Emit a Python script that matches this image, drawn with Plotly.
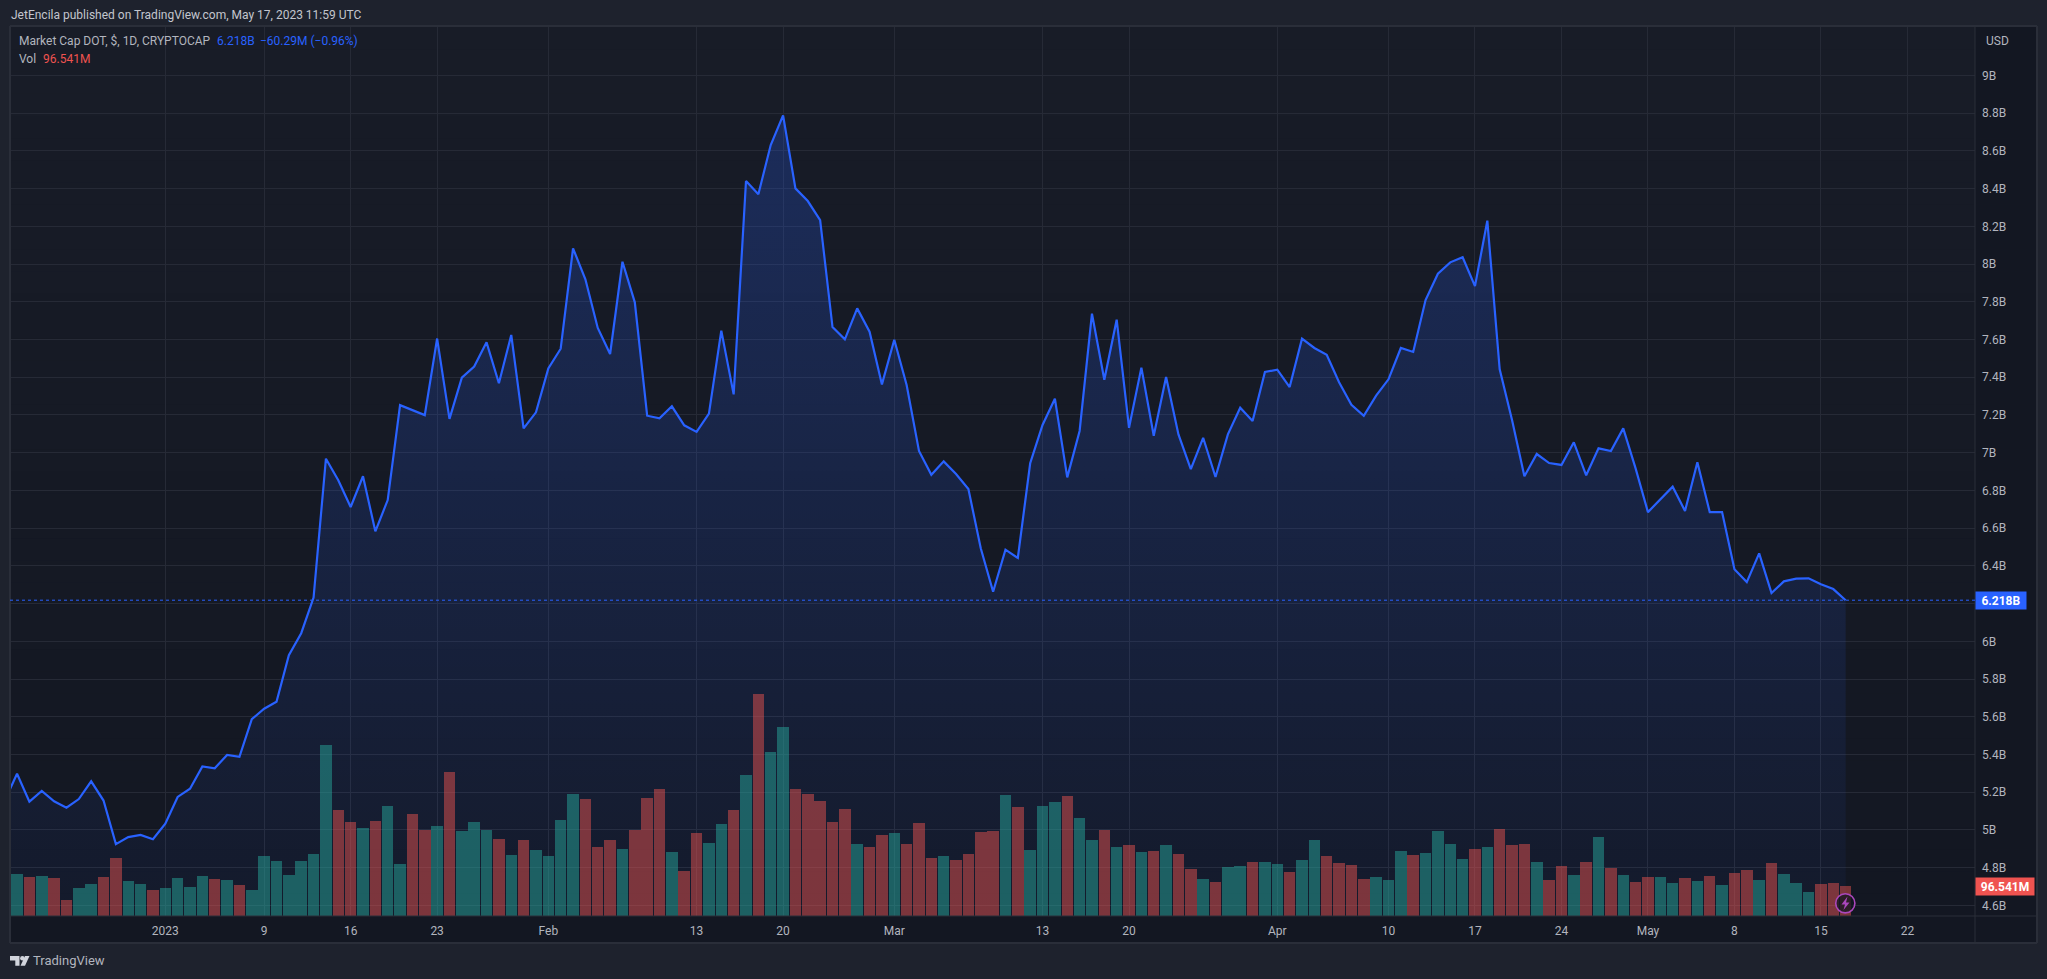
import pandas as pd
import plotly.graph_objects as go

# ---- data ----
start_date = "2022-12-19"
market_cap_b = [
 5.156,5.298,5.150,5.207,5.152,5.118,5.164,5.258,5.156,4.925,4.962,4.974,4.951,
 5.033,5.175,5.219,5.337,5.327,5.398,5.388,5.587,5.643,5.680,5.927,6.043,6.232,6.968,6.854,6.712,6.875,6.583,6.749,7.252,7.226,7.199,7.605,7.179,7.398,7.457,7.585,7.368,7.624,7.129,7.214,
 7.447,7.551,8.083,7.919,7.661,7.523,8.012,7.797,7.196,7.182,7.246,7.145,7.110,7.207,7.647,7.309,8.440,8.370,8.631,8.788,8.401,8.334,8.233,7.666,7.601,7.765,7.641,7.362,
 7.599,7.359,7.009,6.883,6.954,6.887,6.807,6.493,6.263,6.486,6.442,6.944,7.147,7.286,6.869,7.115,7.737,7.387,7.705,7.132,7.451,7.090,7.401,7.097,6.913,7.079,6.871,7.097,7.238,7.168,7.428,
 7.440,7.348,7.604,7.555,7.519,7.373,7.254,7.196,7.302,7.389,7.555,7.534,7.809,7.949,8.009,8.036,7.883,8.230,7.442,7.173,6.875,6.993,6.945,6.935,7.055,6.880,7.023,7.009,7.129,6.917,
 6.685,6.751,6.820,6.691,6.949,6.685,6.685,6.382,6.314,6.466,6.256,6.318,6.332,6.334,6.302,6.277,6.218,
]
volume_m = [
 120.0,135.2,125.5,128.7,122.3,51.5,90.1,103.0,125.5,186.6,112.6,103.0,83.7,
 90.1,122.3,93.3,128.7,119.1,115.9,99.8,83.7,193.1,177.0,131.9,177.0,199.5,550.3,341.1,302.5,283.2,305.7,354.0,167.3,328.2,276.8,289.6,463.4,273.5,302.5,276.8,247.8,196.3,244.6,212.4,
 193.1,308.9,392.6,376.5,222.0,244.6,215.6,276.8,379.7,408.7,206.0,144.8,267.1,234.9,296.1,341.1,453.8,714.4,527.8,608.2,408.7,392.6,370.1,302.5,344.3,231.7,222.0,260.7,
 267.1,231.7,299.3,186.6,193.1,180.2,199.5,270.3,273.5,389.4,350.8,212.4,354.0,366.9,386.2,315.4,244.6,276.8,222.0,228.5,206.0,209.2,228.5,199.5,151.3,119.1,109.4,157.7,160.9,173.8,173.8,
 167.3,141.6,180.2,244.6,193.1,170.6,164.1,119.1,125.5,115.9,209.2,196.3,202.7,273.5,231.7,183.4,215.6,222.0,280.0,228.5,231.7,173.8,115.9,160.9,131.9,173.8,254.2,154.5,131.9,109.4,
 125.5,125.5,106.2,122.3,112.6,128.7,99.8,138.4,148.0,115.9,170.6,135.2,106.2,77.2,102.8,106.2,96.5,
]
# 1 = up (green), 0 = down (red)
volume_up = [
 1,1,0,1,0,0,1,1,0,0,1,1,0,
 1,1,1,1,0,1,0,1,1,1,1,1,1,1,0,0,1,0,1,1,0,0,1,0,1,1,1,0,1,0,1,
 1,1,1,0,0,0,1,0,0,0,1,0,0,1,1,0,1,0,1,1,0,0,0,0,0,1,0,0,
 1,0,0,0,1,0,0,0,0,1,0,1,1,1,0,1,1,0,1,0,1,0,1,0,0,1,0,1,1,0,1,
 1,0,1,1,0,0,0,0,1,1,1,0,1,1,1,1,0,1,0,0,0,1,0,0,1,0,1,0,1,0,
 0,1,1,0,1,0,1,0,0,1,0,1,1,1,0,0,0,
]
y_ticks = [4.6,4.8,5,5.2,5.4,5.6,5.8,6,6.2,6.4,6.6,6.8,7,7.2,7.4,7.6,7.8,8,8.2,8.4,8.6,8.8,9]
y_tick_text = ["4.6B","4.8B","5B","5.2B","5.4B","5.6B","5.8B","6B","","6.4B","6.6B","6.8B","7B","7.2B","7.4B","7.6B","7.8B","8B","8.2B","8.4B","8.6B","8.8B","9B"]
x_ticks = ["2023-01-01","2023-01-09","2023-01-16","2023-01-23","2023-02-01","2023-02-13","2023-02-20","2023-03-01","2023-03-13","2023-03-20","2023-04-01","2023-04-10","2023-04-17","2023-04-24","2023-05-01","2023-05-08","2023-05-15","2023-05-22"]
x_tick_text = ["2023","9","16","23","Feb","13","20","Mar","13","20","Apr","10","17","24","May","8","15","22"]
last_price = 6.218
last_volume = 96.541
y_range = [4.544, 9.2565]
x_range = ["2022-12-19 10:19", "2023-05-27 11:17"]
volume_axis_max = 2861

dates = pd.date_range(start_date, periods=len(market_cap_b), freq="D")

# ---- layout constants (pixels in the 2047x979 page) ----
W, H = 2047, 979
L, R, T, B = 10, 1975, 27, 916
FONT = "Roboto"
GRID = "#262a36"
BORDER = "#2a2e39"
TEXT = "#b2b5be"
BLUE = "#2962ff"
RED = "#ef5350"
PANEL = "#131722"

def X(px): return (px - L) / (R - L)
def Y(py): return (B - py) / (B - T)
def rect(x0, y0, x1, y1, **kw):
    return dict(type="rect", xref="paper", yref="paper", x0=X(x0), x1=X(x1), y0=Y(y1), y1=Y(y0), line_width=0, **kw)
def poly(points, color, layer="above"):
    d = "M " + " L ".join(f"{X(a)} {Y(b)}" for a, b in points) + " Z"
    return dict(type="path", xref="paper", yref="paper", path=d, fillcolor=color, line_width=0, layer=layer)
def circle(cx, cy, r, **kw):
    return dict(type="circle", xref="paper", yref="paper", x0=X(cx-r), x1=X(cx+r), y0=Y(cy+r), y1=Y(cy-r), **kw)
def text(px, py, s, size=12, color=TEXT, anchor="left", **kw):
    return dict(xref="paper", yref="paper", x=X(px), y=Y(py), text=s, showarrow=False,
                xanchor=anchor, yanchor="middle", font=dict(family=FONT, size=size, color=color), **kw)

shapes = []
# outer panel, with the chart-area vertical gradient laid in strips
shapes.append(rect(10, 27, 2037, 943, fillcolor=PANEL, layer="below"))
c0, c1, n = (24, 28, 39), (19, 23, 34), 40
for i in range(n):
    t = i / (n - 1)
    col = tuple(round(a + (b - a) * t) for a, b in zip(c0, c1))
    y0 = T + (B - T) * i / n
    y1 = T + (B - T) * (i + 1) / n + 0.5
    shapes.append(rect(L, y0, R, y1, fillcolor=f"rgb{col}", layer="below"))
# frame lines
for seg in [(10, 26, 2037, 26), (2037, 26, 2037, 943), (10, 943, 2037, 943), (10, 26, 10, 943), (1975, 26, 1975, 943), (10, 916, 2037, 916)]:
    shapes.append(dict(type="line", xref="paper", yref="paper", x0=X(seg[0]), y0=Y(seg[1]), x1=X(seg[2]), y1=Y(seg[3]),
                       line=dict(color=BORDER, width=2 if seg[0] != 1975 and seg[1] != 916 else 1), layer="above"))
# last-price dotted line
shapes.append(dict(type="line", xref="paper", yref="y", x0=0, x1=1, y0=last_price, y1=last_price,
                   line=dict(color=BLUE, width=1, dash="dot"), layer="above"))
# lightning badge
shapes.append(circle(1845.3, 903.3, 9.6, fillcolor="rgba(19,23,34,0.75)", line=dict(color="#ab47bc", width=1.6), layer="above"))
shapes.append(poly([(1847.5, 896.5), (1841.5, 904.5), (1845, 904.5), (1843.5, 910), (1849.5, 902.5), (1846, 902.5)], "#ab47bc"))
# logo
LOGO = "#d1d4dc"
shapes.append(poly([(10, 956), (19.5, 956), (19.5, 965.7), (15.3, 965.7), (15.3, 960.5), (10, 960.5)], LOGO))
shapes.append(circle(22.4, 958.3, 2.3, fillcolor=LOGO, line_width=0, layer="above"))
shapes.append(poly([(25, 956), (29.5, 956), (25, 965.7), (20.5, 965.7)], LOGO))

annotations = [
    text(9, 15, "JetEncila published on TradingView.com, May 17, 2023 11:59 UTC", size=12, color="#c3c6ce"),
    text(17, 41.5, "Market Cap DOT, $, 1D, CRYPTOCAP", size=12, color=TEXT),
    text(215, 41.5, "6.218B", size=12, color=BLUE),
    text(258, 41.5, "−60.29M (−0.96%)", size=12, color=BLUE),
    text(17, 58.5, "Vol", size=12, color=TEXT),
    text(40.5, 58.5, "96.541M", size=12, color=RED),
    text(1984, 41, "USD", size=12, color=TEXT),
    text(31, 960.5, "TradingView", size=13, color=TEXT),
    # last-value flags, placed through the value scales
    dict(xref="paper", yref="y", x=1, y=last_price, text="<b>6.218B</b>", showarrow=False, xanchor="left", yanchor="middle",
         width=50, height=17, bgcolor=BLUE, borderpad=0, align="center", font=dict(family=FONT, size=12, color="white")),
    dict(xref="paper", yref="y2", x=1, y=last_volume, text="<b>96.541M</b>", showarrow=False, xanchor="left", yanchor="middle",
         width=58, height=17, bgcolor=RED, borderpad=0, align="center", font=dict(family=FONT, size=12, color="white")),
]

fig = go.Figure()
fig.add_trace(go.Scatter(
    x=dates, y=market_cap_b, mode="lines", line=dict(color=BLUE, width=2.2), fill="tozeroy",
    fillgradient=dict(type="vertical", start=y_range[0], stop=max(market_cap_b),
                      colorscale=[[0, "rgba(41,98,255,0.04)"], [1, "rgba(41,98,255,0.24)"]]),
    hoverinfo="skip", showlegend=False, yaxis="y", cliponaxis=True))
fig.add_trace(go.Bar(
    x=dates, y=volume_m, yaxis="y2", width=0.93 * 86400000,
    marker=dict(color=["rgba(38,166,154,0.5)" if u else "rgba(239,83,80,0.48)" for u in volume_up], line_width=0),
    hoverinfo="skip", showlegend=False))

fig.update_layout(
    width=W, height=H, autosize=False,
    margin=dict(l=L, r=W - R, t=T, b=H - B, pad=0),
    paper_bgcolor="#1e222d", plot_bgcolor="rgba(0,0,0,0)",
    showlegend=False, shapes=shapes, annotations=annotations, bargap=0,
    xaxis=dict(type="date", range=x_range, tickmode="array", tickvals=x_ticks, ticktext=x_tick_text,
               showgrid=True, gridcolor=GRID, gridwidth=1, zeroline=False, showline=False, ticks="", ticklen=0,
               tickfont=dict(family=FONT, size=12, color=TEXT), tickangle=0, ticklabelstandoff=6),
    yaxis=dict(range=y_range, side="right", tickmode="array", tickvals=y_ticks, ticktext=y_tick_text,
               showgrid=True, gridcolor=GRID, gridwidth=1, zeroline=False, showline=False, ticks="",
               tickfont=dict(family=FONT, size=12, color=TEXT), ticklabelstandoff=6),
    yaxis2=dict(range=[0, volume_axis_max], overlaying="y", side="left", visible=False, showgrid=False, zeroline=False),
)
fig.write_html("out.html", config=dict(displayModeBar=False),
               post_script="document.body.style.margin='0';document.body.style.background='#1e222d';document.documentElement.style.overflow='hidden';")
